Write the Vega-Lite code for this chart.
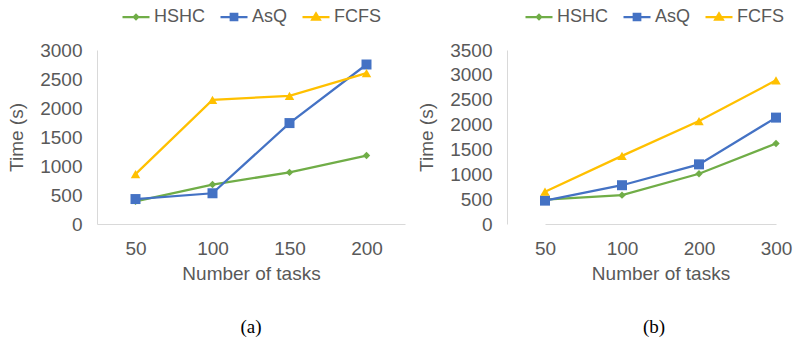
{
  "$schema": "https://vega.github.io/schema/vega-lite/v6.json",
  "padding": {"left": 7, "top": 2, "right": 0, "bottom": 0},
  "datasets": {
    "a": [
      {"tasks": 50, "series": "HSHC", "time": 390},
      {"tasks": 100, "series": "HSHC", "time": 680},
      {"tasks": 150, "series": "HSHC", "time": 890},
      {"tasks": 200, "series": "HSHC", "time": 1180},
      {"tasks": 50, "series": "AsQ", "time": 430},
      {"tasks": 100, "series": "AsQ", "time": 530},
      {"tasks": 150, "series": "AsQ", "time": 1740},
      {"tasks": 200, "series": "AsQ", "time": 2750},
      {"tasks": 50, "series": "FCFS", "time": 860},
      {"tasks": 100, "series": "FCFS", "time": 2140},
      {"tasks": 150, "series": "FCFS", "time": 2210},
      {"tasks": 200, "series": "FCFS", "time": 2600}
    ],
    "b": [
      {"tasks": 50, "series": "HSHC", "time": 490},
      {"tasks": 100, "series": "HSHC", "time": 580},
      {"tasks": 200, "series": "HSHC", "time": 1010},
      {"tasks": 300, "series": "HSHC", "time": 1620},
      {"tasks": 50, "series": "AsQ", "time": 470},
      {"tasks": 100, "series": "AsQ", "time": 780},
      {"tasks": 200, "series": "AsQ", "time": 1200},
      {"tasks": 300, "series": "AsQ", "time": 2140},
      {"tasks": 50, "series": "FCFS", "time": 650},
      {"tasks": 100, "series": "FCFS", "time": 1370},
      {"tasks": 200, "series": "FCFS", "time": 2070},
      {"tasks": 300, "series": "FCFS", "time": 2890}
    ]
  },
  "spacing": 12,
  "resolve": {"scale": {"color": "independent"}, "legend": {"color": "independent"}},
  "hconcat": [
    {
      "width": 308,
      "height": 174,
      "data": {"name": "a"},
      "title": {"text": "(a)", "orient": "bottom", "font": "Liberation Serif", "fontSize": 19, "fontWeight": "normal", "color": "#000000", "offset": 35},
      "encoding": {
        "x": {"field": "tasks", "type": "ordinal", "scale": {"type": "point", "padding": 0.5}, "axis": {"title": "Number of tasks", "labelAngle": 0}},
        "y": {"field": "time", "type": "quantitative", "scale": {"domain": [0, 3000], "nice": false}, "axis": {"values": [0, 500, 1000, 1500, 2000, 2500, 3000], "format": "d", "title": "Time (s)"}},
        "color": {
          "field": "series", "type": "nominal",
          "scale": {"domain": ["HSHC", "AsQ", "FCFS"], "range": ["#70AD47", "#4472C4", "#FFC000"]},
          "legend": {
            "title": null, "orient": "top",
            "encode": {"symbols": {"update": {
              "shape": {"signal": "datum.value === 'HSHC' ? 'M-1,0H1M-0.16,0L0,-0.16L0.16,0L0,0.16Z' : datum.value === 'AsQ' ? 'M-1,0H1M-0.24,-0.24H0.24V0.24H-0.24Z' : 'M-1,0H1M-0.28,0.2L0,-0.26L0.28,0.2Z'"},
              "stroke": {"signal": "datum.value === 'HSHC' ? '#70AD47' : datum.value === 'AsQ' ? '#4472C4' : '#FFC000'"},
              "fill": {"signal": "datum.value === 'HSHC' ? '#70AD47' : datum.value === 'AsQ' ? '#4472C4' : '#FFC000'"},
              "strokeWidth": {"value": 2.25},
              "size": {"value": 729},
              "opacity": {"value": 1}
            }}}
          }
        }
      },
      "layer": [
        {"mark": {"type": "line", "strokeWidth": 2.25}},
        {"transform": [{"filter": "datum.series === 'HSHC'"}], "mark": {"type": "point", "filled": true, "opacity": 1, "shape": "diamond", "size": 55}},
        {"transform": [{"filter": "datum.series === 'AsQ'"}], "mark": {"type": "point", "filled": true, "opacity": 1, "shape": "square", "size": 100}},
        {"transform": [{"filter": "datum.series === 'FCFS'"}], "mark": {"type": "point", "filled": true, "opacity": 1, "shape": "triangle-up", "size": 90}}
      ]
    },
    {
      "width": 294,
      "height": 174,
      "data": {"name": "b"},
      "title": {"text": "(b)", "orient": "bottom", "font": "Liberation Serif", "fontSize": 19, "fontWeight": "normal", "color": "#000000", "offset": 35},
      "encoding": {
        "x": {"field": "tasks", "type": "ordinal", "scale": {"type": "point", "padding": 0, "range": [38, 269]}, "axis": {"title": "Number of tasks", "labelAngle": 0}},
        "y": {"field": "time", "type": "quantitative", "scale": {"domain": [0, 3500], "nice": false}, "axis": {"values": [0, 500, 1000, 1500, 2000, 2500, 3000, 3500], "format": "d", "title": "Time (s)"}},
        "color": {
          "field": "series", "type": "nominal",
          "scale": {"domain": ["HSHC", "AsQ", "FCFS"], "range": ["#70AD47", "#4472C4", "#FFC000"]},
          "legend": {
            "title": null, "orient": "top",
            "encode": {"symbols": {"update": {
              "shape": {"signal": "datum.value === 'HSHC' ? 'M-1,0H1M-0.16,0L0,-0.16L0.16,0L0,0.16Z' : datum.value === 'AsQ' ? 'M-1,0H1M-0.24,-0.24H0.24V0.24H-0.24Z' : 'M-1,0H1M-0.28,0.2L0,-0.26L0.28,0.2Z'"},
              "stroke": {"signal": "datum.value === 'HSHC' ? '#70AD47' : datum.value === 'AsQ' ? '#4472C4' : '#FFC000'"},
              "fill": {"signal": "datum.value === 'HSHC' ? '#70AD47' : datum.value === 'AsQ' ? '#4472C4' : '#FFC000'"},
              "strokeWidth": {"value": 2.25},
              "size": {"value": 729},
              "opacity": {"value": 1}
            }}}
          }
        }
      },
      "layer": [
        {"mark": {"type": "line", "strokeWidth": 2.25}},
        {"transform": [{"filter": "datum.series === 'HSHC'"}], "mark": {"type": "point", "filled": true, "opacity": 1, "shape": "diamond", "size": 55}},
        {"transform": [{"filter": "datum.series === 'AsQ'"}], "mark": {"type": "point", "filled": true, "opacity": 1, "shape": "square", "size": 100}},
        {"transform": [{"filter": "datum.series === 'FCFS'"}], "mark": {"type": "point", "filled": true, "opacity": 1, "shape": "triangle-up", "size": 90}}
      ]
    }
  ],
  "config": {
    "view": {"stroke": null},
    "axis": {
      "domainColor": "#d9d9d9", "domainWidth": 1, "ticks": false, "tickSize": 0, "grid": false,
      "labelFont": "Liberation Sans", "labelFontSize": 19, "labelColor": "#595959",
      "titleFont": "Liberation Sans", "titleFontSize": 19, "titleColor": "#595959", "titleFontWeight": "normal"
    },
    "axisX": {"labelPadding": 15, "titlePadding": 6},
    "axisY": {"labelPadding": 15, "titlePadding": 13},
    "legend": {
      "labelFont": "Liberation Sans", "labelFontSize": 18, "labelColor": "#595959",
      "symbolSize": 729, "columnPadding": 10, "labelOffset": 3, "offset": 24,
      "layout": {"top": {"anchor": "middle"}}
    }
  }
}
